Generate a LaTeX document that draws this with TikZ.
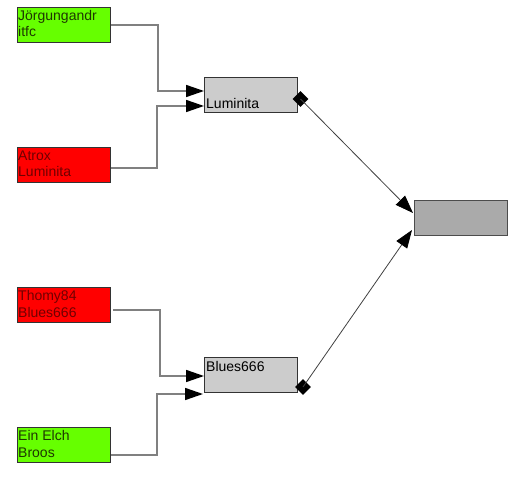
\documentclass[tikz,border=0pt]{standalone}
\usepackage{fontspec}
\setmainfont{Liberation Sans}
\usetikzlibrary{arrows.meta,shapes.geometric}
\definecolor{gbox}{HTML}{66FF00}
\definecolor{rbox}{HTML}{FF0000}
\definecolor{lgray}{HTML}{CCCCCC}
\definecolor{dgray}{HTML}{AAAAAA}
\definecolor{gtext}{HTML}{1E3800}
\definecolor{rtext}{HTML}{700000}
\definecolor{wire}{HTML}{808080}
\begin{document}
\begin{tikzpicture}[x=1pt,y=-1pt,
  box/.style={draw=black!80,line width=1pt,minimum width=93pt,minimum height=35pt,anchor=north west,inner sep=0pt},
  txt/.style={anchor=base west,inner sep=0pt,align=left,font=\fontsize{14}{16.5}\selectfont},
  wirel/.style={draw=wire,line width=1.6pt,-{Triangle[length=18pt,width=12pt,fill=black,color=black]}},
  link/.style={draw=black!75,line width=0.8pt,-{Triangle[length=18pt,width=13pt,fill=black,color=black]}},
  dia/.style={diamond,fill=black,inner sep=0pt,minimum size=16pt}]
\useasboundingbox (0,0) rectangle (512,492);
% left boxes
\node[box,fill=gbox] (jo) at (17,7) {};
\node[txt,text=gtext] (jot) at (18,37) {Jörgungandr\\itfc};
\node[box,fill=rbox] (at) at (17,147) {};
\node[txt,text=rtext] (att) at (18,177) {Atrox\\Luminita};
\node[box,fill=rbox] (th) at (17,287) {};
\node[txt,text=rtext] (tht) at (18,317) {Thomy84\\Blues666};
\node[box,fill=gbox] (ei) at (17,427) {};
\node[txt,text=gtext] (eit) at (18,457) {Ein Elch\\Broos};
% middle boxes
\node[box,fill=lgray] (lu) at (204,77) {};
\node[txt] (lut) at (206,108.5) {Luminita};
\node[box,fill=lgray] (bl) at (204,357) {};
\node[txt] (blt) at (206,371) {Blues666};
% final box
\node[box,fill=dgray,draw=black!70] (fi) at (414,200) {};
% diamonds
\node[dia] (dl) at (300.5,99) {};
\node[dia] (db) at (303,387) {};
% connectors
\coordinate (l1) at (204,91);
\coordinate (l2) at (204,106);
\coordinate (b1) at (204,376);
\coordinate (b2) at (203,394);
\coordinate (f1) at (413,213);
\coordinate (f2) at (412,230);
\draw[wirel] (jo.east|-0,25) -| (158,91) -- (l1);
\draw[wirel] (at.east|-0,168) -| (157,106) -- (l2);
\draw[wirel] (113,310) -| (160,376) -- (b1);
\draw[wirel] (ei.east|-0,455) -| (157,394) -- (b2);
\draw[link] (dl.center) -- (f1);
\draw[link] (db.center) -- (f2);
\end{tikzpicture}
\end{document}
